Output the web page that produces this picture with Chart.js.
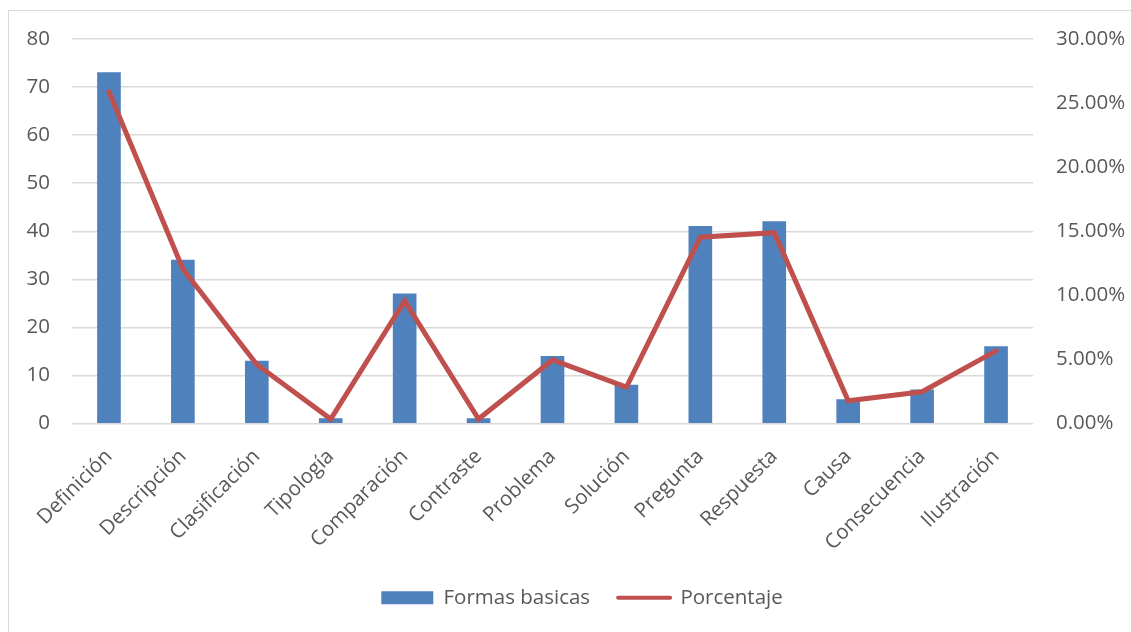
<!DOCTYPE html>
<html lang="es">
<head>
<meta charset="utf-8">
<title>Formas básicas</title>
<script src="https://cdn.jsdelivr.net/npm/chart.js@4/dist/chart.umd.min.js"></script>
<style>
  html, body { margin: 0; padding: 0; background: #ffffff; }
  #wrap { position: relative; width: 1131px; height: 632px; overflow: hidden; }
  #frame {
    position: absolute; left: 8px; top: 10px; width: 1200px; height: 700px;
    border-top: 1.5px solid #d9d9d9; border-left: 1.5px solid #d9d9d9;
    box-sizing: border-box;
  }
  canvas { position: absolute; left: 0; top: 0; }
</style>
</head>
<body>
<div id="wrap">
  <div id="frame"></div>
  <canvas id="chart" width="1131" height="632"></canvas>
</div>
<script>
// Categorías de las formas básicas del texto
const categories = [
  'Definición', 'Descripción', 'Clasificación', 'Tipología', 'Comparación',
  'Contraste', 'Problema', 'Solución', 'Pregunta', 'Respuesta',
  'Causa', 'Consecuencia', 'Ilustración'
];

// Frecuencia de cada forma (eje izquierdo)
const formasBasicas = [73, 34, 13, 1, 27, 1, 14, 8, 41, 42, 5, 7, 16];

// Porcentaje de cada forma sobre el total (eje derecho)
const porcentaje = [
  0.2589, 0.1206, 0.0461, 0.0035, 0.0957, 0.0035, 0.0496,
  0.0284, 0.1454, 0.1489, 0.0177, 0.0248, 0.0567
];

const seriesNames = ['Formas basicas', 'Porcentaje'];
const leftTicks = { min: 0, max: 80, step: 10 };
const rightTicks = { min: 0, max: 0.30, step: 0.05 };

const BLUE = '#4F81BD';
const RED = '#C0504D';
const TEXT = '#595959';
const GRID = '#d9d9d9';
const FONT = { family: '"Open Sans", "DejaVu Sans", sans-serif', size: 20.5 };

// Desplaza la leyenda para centrarla bajo el área del gráfico
const legendShift = {
  id: 'legendShift',
  afterLayout(chart) {
    if (chart.legend) chart.legend.left += 33;
  }
};

new Chart(document.getElementById('chart'), {
  plugins: [legendShift],
  data: {
    labels: categories,
    datasets: [
      {
        type: 'bar',
        label: seriesNames[0],
        data: formasBasicas,
        backgroundColor: BLUE,
        borderWidth: 0,
        barThickness: 23,
        yAxisID: 'y',
        order: 2
      },
      {
        type: 'line',
        label: seriesNames[1],
        data: porcentaje,
        borderColor: RED,
        backgroundColor: RED,
        borderWidth: 5,
        borderCapStyle: 'round',
        borderJoinStyle: 'miter',
        pointRadius: 0,
        tension: 0,
        yAxisID: 'y1',
        order: 1
      }
    ]
  },
  options: {
    responsive: false,
    animation: false,
    layout: { padding: { left: 0, right: 0, top: 39, bottom: 14 } },
    plugins: {
      tooltip: { enabled: false },
      legend: {
        position: 'bottom',
        labels: {
          font: FONT,
          color: TEXT,
          usePointStyle: true,
          pointStyleWidth: 52,
          boxWidth: 52,
          boxHeight: 13,
          padding: 28,
          sort: (a, b) => a.datasetIndex - b.datasetIndex,
          generateLabels(chart) {
            const items = Chart.defaults.plugins.legend.labels.generateLabels(chart);
            items.forEach(it => {
              if (it.datasetIndex === 0) {
                it.pointStyle = 'rect';
                it.lineWidth = 0;
                it.strokeStyle = BLUE;
              } else {
                it.pointStyle = 'line';
                it.lineWidth = 4;
                it.strokeStyle = RED;
                it.lineCap = 'round';
              }
            });
            return items;
          }
        }
      }
    },
    scales: {
      x: {
        grid: { display: false, drawTicks: false },
        border: { display: false },
        ticks: {
          font: FONT,
          color: TEXT,
          minRotation: 45,
          maxRotation: 45,
          autoSkip: false,
          padding: 21
        },
        afterFit(scale) { scale.height = 136; }
      },
      y: {
        position: 'left',
        min: leftTicks.min,
        max: leftTicks.max,
        grid: { color: GRID, lineWidth: 1.5, drawTicks: false },
        border: { display: false },
        ticks: {
          stepSize: leftTicks.step,
          font: FONT,
          color: TEXT,
          padding: 22
        },
        afterFit(scale) { scale.width = 72; }
      },
      y1: {
        position: 'right',
        min: rightTicks.min,
        max: rightTicks.max,
        grid: { display: false, drawTicks: false },
        border: { display: false },
        ticks: {
          stepSize: rightTicks.step,
          font: FONT,
          color: TEXT,
          padding: 23,
          callback: v => (v * 100).toFixed(2) + '%'
        },
        afterFit(scale) { scale.width = 98; }
      }
    }
  }
});
</script>
</body>
</html>
